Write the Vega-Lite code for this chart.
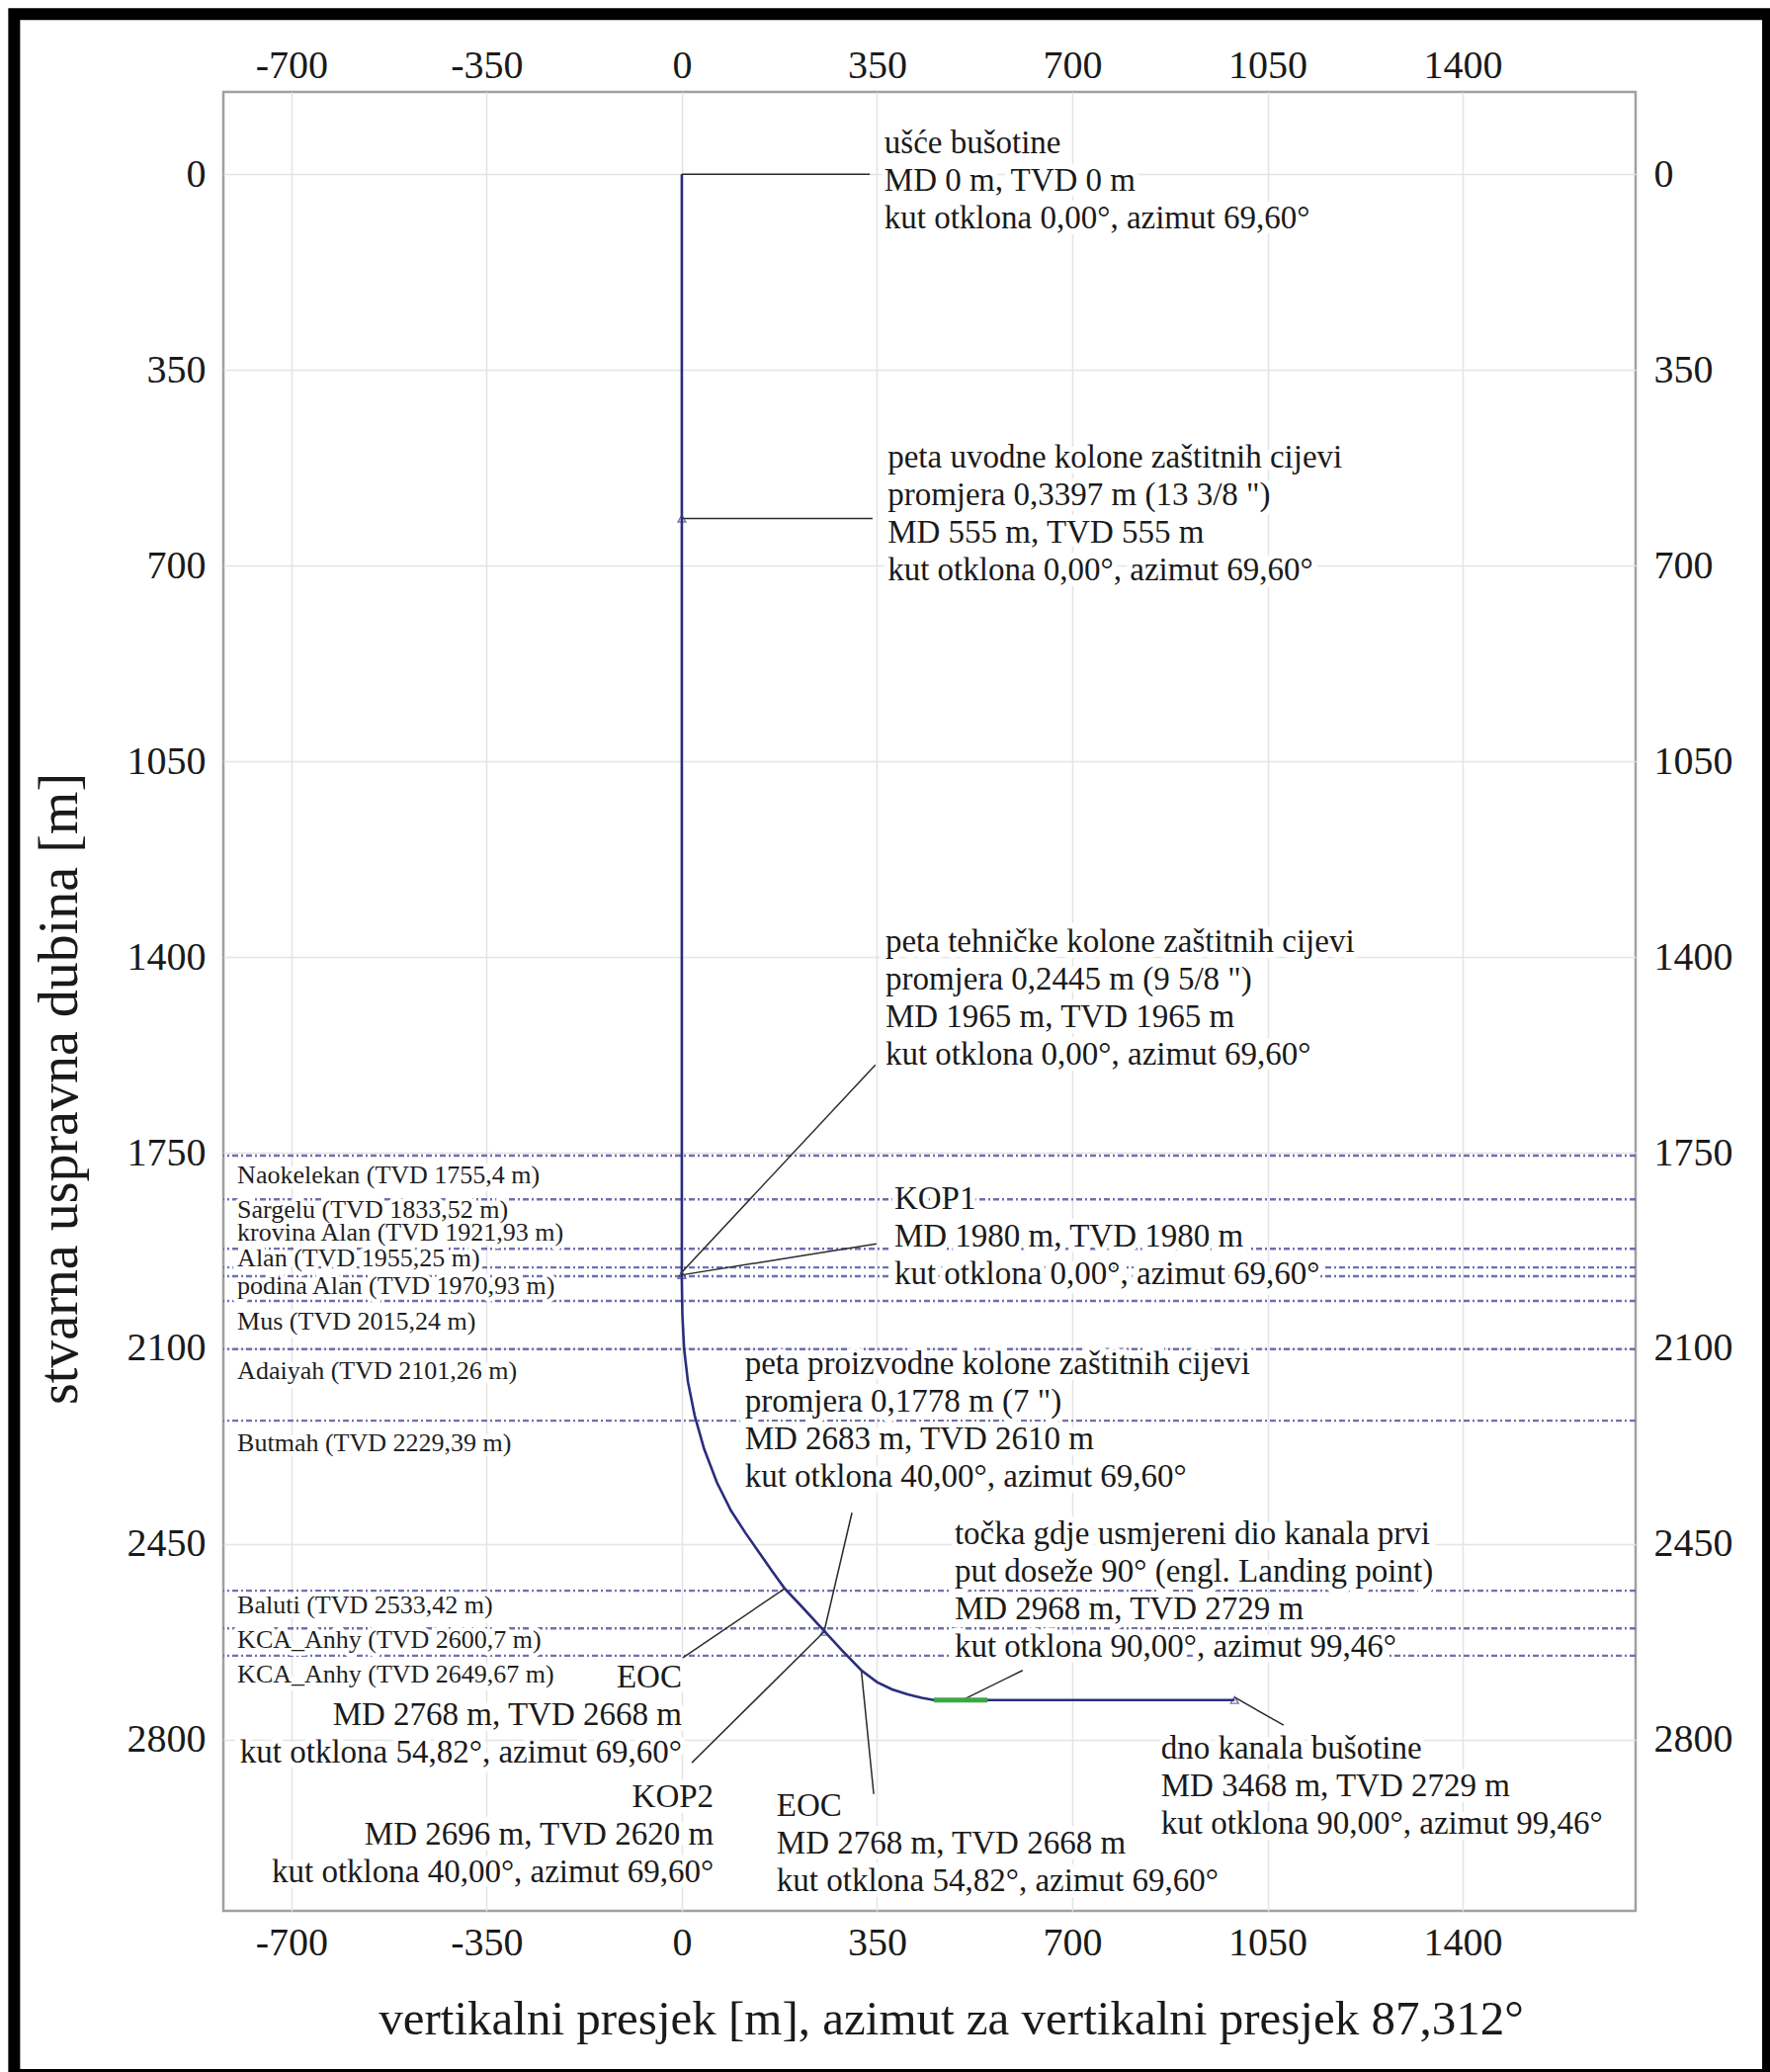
{
  "$schema": "https://vega.github.io/schema/vega-lite/v6.json",
  "width": 1429,
  "height": 1840,
  "autosize": {"type": "none"},
  "padding": {"left": 226, "top": 93, "right": 136, "bottom": 163},
  "background": "white",
  "config": {
    "view": {"stroke": "#a0a0a0", "strokeWidth": 2.5},
    "text": {"font": "Liberation Serif"},
    "axis": {"labelFont": "Liberation Serif", "titleFont": "Liberation Serif"}
  },
  "datasets": {
    "trajectory": [
      {"pt": 1, "vs": 0, "tvd": 0},
      {"pt": 2, "vs": 0, "tvd": 1980},
      {"pt": 3, "vs": 1, "tvd": 2040},
      {"pt": 4, "vs": 4, "tvd": 2100},
      {"pt": 5, "vs": 11, "tvd": 2160},
      {"pt": 6, "vs": 23, "tvd": 2220},
      {"pt": 7, "vs": 40, "tvd": 2280},
      {"pt": 8, "vs": 63, "tvd": 2340},
      {"pt": 9, "vs": 88, "tvd": 2390},
      {"pt": 10, "vs": 114, "tvd": 2430},
      {"pt": 11, "vs": 142, "tvd": 2470},
      {"pt": 12, "vs": 163, "tvd": 2500},
      {"pt": 13, "vs": 184, "tvd": 2529},
      {"pt": 14, "vs": 218, "tvd": 2565},
      {"pt": 15, "vs": 252, "tvd": 2602},
      {"pt": 16, "vs": 287, "tvd": 2640},
      {"pt": 17, "vs": 322, "tvd": 2676},
      {"pt": 18, "vs": 350, "tvd": 2697},
      {"pt": 19, "vs": 377, "tvd": 2710},
      {"pt": 20, "vs": 405, "tvd": 2719},
      {"pt": 21, "vs": 430, "tvd": 2725},
      {"pt": 22, "vs": 452, "tvd": 2729},
      {"pt": 23, "vs": 991, "tvd": 2729}
    ],
    "landing_zone": [
      {"pt": 1, "vs": 452, "tvd": 2729},
      {"pt": 2, "vs": 548, "tvd": 2729}
    ],
    "formations": [
      {"name": "Naokelekan", "tvd": 1755.4, "label": "Naokelekan (TVD 1755,4 m)", "label_tvd": 1805},
      {"name": "Sargelu", "tvd": 1833.52, "label": "Sargelu (TVD 1833,52 m)", "label_tvd": 1866},
      {"name": "krovina Alan", "tvd": 1921.93, "label": "krovina Alan (TVD 1921,93 m)", "label_tvd": 1907},
      {"name": "Alan", "tvd": 1955.25, "label": "Alan (TVD 1955,25 m)", "label_tvd": 1954},
      {"name": "podina Alan", "tvd": 1970.93, "label": "podina Alan (TVD 1970,93 m)", "label_tvd": 2002},
      {"name": "Mus", "tvd": 2015.24, "label": "Mus (TVD 2015,24 m)", "label_tvd": 2066},
      {"name": "Adaiyah", "tvd": 2101.26, "label": "Adaiyah (TVD 2101,26 m)", "label_tvd": 2155},
      {"name": "Butmah", "tvd": 2229.39, "label": "Butmah (TVD 2229,39 m)", "label_tvd": 2284},
      {"name": "Baluti", "tvd": 2533.42, "label": "Baluti (TVD 2533,42 m)", "label_tvd": 2574},
      {"name": "KCA_Anhy", "tvd": 2600.7, "label": "KCA_Anhy (TVD 2600,7 m)", "label_tvd": 2636},
      {"name": "KCA_Anhy (2)", "tvd": 2649.67, "label": "KCA_Anhy (TVD 2649,67 m)", "label_tvd": 2698}
    ],
    "notes_right": [
      {"vs": 363, "tvd": -37, "text": "ušće bušotine\nMD 0 m, TVD 0 m\nkut otklona 0,00°, azimut 69,60°"},
      {"vs": 369, "tvd": 525, "text": "peta uvodne kolone zaštitnih cijevi\npromjera 0,3397 m (13 3/8 \")\nMD 555 m, TVD 555 m\nkut otklona 0,00°, azimut 69,60°"},
      {"vs": 365, "tvd": 1391, "text": "peta tehničke kolone zaštitnih cijevi\npromjera 0,2445 m (9 5/8 \")\nMD 1965 m, TVD 1965 m\nkut otklona 0,00°, azimut 69,60°"},
      {"vs": 381, "tvd": 1851, "text": "KOP1\nMD 1980 m, TVD 1980 m\nkut otklona 0,00°, azimut 69,60°"},
      {"vs": 113, "tvd": 2146, "text": "peta proizvodne kolone zaštitnih cijevi\npromjera 0,1778 m (7 \")\nMD 2683 m, TVD 2610 m\nkut otklona 40,00°, azimut 69,60°"},
      {"vs": 489, "tvd": 2450, "text": "točka gdje usmjereni dio kanala prvi\nput doseže 90° (engl. Landing point)\nMD 2968 m, TVD 2729 m\nkut otklona 90,00°, azimut 99,46°"},
      {"vs": 859, "tvd": 2834, "text": "dno kanala bušotine\nMD 3468 m, TVD 2729 m\nkut otklona 90,00°, azimut 99,46°"},
      {"vs": 170, "tvd": 2936, "text": "EOC\nMD 2768 m, TVD 2668 m\nkut otklona 54,82°, azimut 69,60°"}
    ],
    "notes_left": [
      {"vs": 0, "tvd": 2706, "text": "EOC\nMD 2768 m, TVD 2668 m\nkut otklona 54,82°, azimut 69,60°"},
      {"vs": 57, "tvd": 2920, "text": "KOP2\nMD 2696 m, TVD 2620 m\nkut otklona 40,00°, azimut 69,60°"}
    ],
    "leaders": [
      {"vs_a": 0, "tvd_a": 0, "vs_b": 337, "tvd_b": 0},
      {"vs_a": 0, "tvd_a": 616, "vs_b": 342, "tvd_b": 616},
      {"vs_a": -2, "tvd_a": 1966, "vs_b": 347, "tvd_b": 1593},
      {"vs_a": -2, "tvd_a": 1969, "vs_b": 349, "tvd_b": 1913},
      {"vs_a": 255, "tvd_a": 2607, "vs_b": 305, "tvd_b": 2394},
      {"vs_a": 184, "tvd_a": 2530, "vs_b": 2, "tvd_b": 2653},
      {"vs_a": 255, "tvd_a": 2607, "vs_b": 18, "tvd_b": 2841},
      {"vs_a": 322, "tvd_a": 2678, "vs_b": 344, "tvd_b": 2897},
      {"vs_a": 507, "tvd_a": 2727, "vs_b": 611, "tvd_b": 2676},
      {"vs_a": 991, "tvd_a": 2724, "vs_b": 1079, "tvd_b": 2774}
    ],
    "markers": [
      {"name": "peta 13 3/8", "vs": 0, "tvd": 616},
      {"name": "peta 9 5/8", "vs": 0, "tvd": 1969},
      {"name": "peta 7", "vs": 255, "tvd": 2607},
      {"name": "dno", "vs": 991, "tvd": 2729}
    ],
    "frame": [
      {"part": "okvir slike"}
    ]
  },
  "resolve": {"axis": {"x": "independent", "y": "independent"}},
  "layer": [
    {
      "data": {"name": "formations"},
      "mark": {"type": "rule", "color": "#5f5fa8", "strokeWidth": 2.4, "strokeDash": [6, 3, 2, 3], "opacity": 0.9},
      "encoding": {
        "y": {"field": "tvd", "type": "quantitative", "scale": {"domain": [-147, 3106], "reverse": true, "nice": false, "zero": false}, "axis": null}
      }
    },
    {
      "data": {"name": "formations"},
      "mark": {"type": "text", "align": "left", "baseline": "alphabetic", "fontSize": 26, "font": "Liberation Serif", "fill": "white", "stroke": "white", "strokeWidth": 9, "strokeJoin": "round"},
      "encoding": {
        "x": {"datum": -797, "type": "quantitative", "scale": {"domain": [-822, 1710], "nice": false, "zero": false}, "axis": null},
        "y": {"field": "label_tvd", "type": "quantitative", "scale": {"domain": [-147, 3106], "reverse": true, "nice": false, "zero": false}, "axis": null},
        "text": {"field": "label"}
      }
    },
    {
      "data": {"name": "notes_right"},
      "mark": {"type": "text", "align": "left", "baseline": "alphabetic", "fontSize": 33, "font": "Liberation Serif", "lineBreak": "\n", "lineHeight": 38, "fill": "white", "stroke": "white", "strokeWidth": 12, "strokeJoin": "round"},
      "encoding": {
        "x": {"field": "vs", "type": "quantitative", "scale": {"domain": [-822, 1710], "nice": false, "zero": false}, "axis": null},
        "y": {"field": "tvd", "type": "quantitative", "scale": {"domain": [-147, 3106], "reverse": true, "nice": false, "zero": false}, "axis": null},
        "text": {"field": "text"}
      }
    },
    {
      "data": {"name": "notes_left"},
      "mark": {"type": "text", "align": "right", "baseline": "alphabetic", "fontSize": 33, "font": "Liberation Serif", "lineBreak": "\n", "lineHeight": 38, "fill": "white", "stroke": "white", "strokeWidth": 12, "strokeJoin": "round"},
      "encoding": {
        "x": {"field": "vs", "type": "quantitative", "scale": {"domain": [-822, 1710], "nice": false, "zero": false}, "axis": null},
        "y": {"field": "tvd", "type": "quantitative", "scale": {"domain": [-147, 3106], "reverse": true, "nice": false, "zero": false}, "axis": null},
        "text": {"field": "text"}
      }
    },
    {
      "data": {"name": "trajectory"},
      "mark": {"type": "line", "color": "#2b2d7c", "strokeWidth": 2.6},
      "encoding": {
        "x": {
          "field": "vs", "type": "quantitative",
          "scale": {"domain": [-822, 1710], "nice": false, "zero": false},
          "axis": {
            "orient": "bottom", "values": [-700, -350, 0, 350, 700, 1050, 1400],
            "labelExpr": "datum.value < 0 ? '-' + abs(datum.value) : '' + datum.value",
            "grid": true, "gridColor": "#e4e4e4", "gridWidth": 1.5,
            "ticks": false, "domain": false, "labelFlush": false, "labelOverlap": false,
            "labelFont": "Liberation Serif", "labelFontSize": 40, "labelColor": "#1a1a1a", "labelPadding": 12,
            "title": "vertikalni presjek [m], azimut za vertikalni presjek 87,312°",
            "titleFont": "Liberation Serif", "titleFontSize": 49, "titleFontWeight": "normal", "titleColor": "#1a1a1a",
            "titleX": 736, "titleY": 124, "titleBaseline": "alphabetic", "titleAlign": "center"
          }
        },
        "y": {
          "field": "tvd", "type": "quantitative",
          "scale": {"domain": [-147, 3106], "reverse": true, "nice": false, "zero": false},
          "axis": {
            "orient": "left", "values": [0, 350, 700, 1050, 1400, 1750, 2100, 2450, 2800],
            "labelExpr": "'' + datum.value",
            "grid": true, "gridColor": "#e4e4e4", "gridWidth": 1.5,
            "ticks": false, "domain": false, "labelFlush": false, "labelOverlap": false,
            "labelFont": "Liberation Serif", "labelFontSize": 40, "labelColor": "#1a1a1a", "labelPadding": 18,
            "title": "stvarna uspravna dubina [m]",
            "titleFont": "Liberation Serif", "titleFontSize": 56, "titleFontWeight": "normal", "titleColor": "#1a1a1a",
            "titleAngle": 270, "titleX": -166, "titleY": 1008, "titleBaseline": "middle", "titleAlign": "center"
          }
        },
        "order": {"field": "pt", "type": "quantitative"}
      }
    },
    {
      "data": {"name": "leaders"},
      "mark": {"type": "rule", "color": "#2a2a2a", "strokeWidth": 1.5},
      "encoding": {
        "x": {
          "field": "vs_a", "type": "quantitative",
          "scale": {"domain": [-822, 1710], "nice": false, "zero": false},
          "axis": {
            "orient": "top", "values": [-700, -350, 0, 350, 700, 1050, 1400],
            "labelExpr": "datum.value < 0 ? '-' + abs(datum.value) : '' + datum.value",
            "grid": false, "ticks": false, "domain": false, "labelFlush": false, "labelOverlap": false,
            "labelFont": "Liberation Serif", "labelFontSize": 40, "labelColor": "#1a1a1a", "labelPadding": 7,
            "title": null
          }
        },
        "x2": {"field": "vs_b"},
        "y": {
          "field": "tvd_a", "type": "quantitative",
          "scale": {"domain": [-147, 3106], "reverse": true, "nice": false, "zero": false},
          "axis": {
            "orient": "right", "values": [0, 350, 700, 1050, 1400, 1750, 2100, 2450, 2800],
            "labelExpr": "'' + datum.value",
            "grid": false, "ticks": false, "domain": false, "labelFlush": false, "labelOverlap": false,
            "labelFont": "Liberation Serif", "labelFontSize": 40, "labelColor": "#1a1a1a", "labelPadding": 18,
            "title": null
          }
        },
        "y2": {"field": "tvd_b"}
      }
    },
    {
      "data": {"name": "landing_zone"},
      "mark": {"type": "line", "color": "#3aa846", "strokeWidth": 5},
      "encoding": {
        "x": {"field": "vs", "type": "quantitative", "scale": {"domain": [-822, 1710], "nice": false, "zero": false}, "axis": null},
        "y": {"field": "tvd", "type": "quantitative", "scale": {"domain": [-147, 3106], "reverse": true, "nice": false, "zero": false}, "axis": null},
        "order": {"field": "pt", "type": "quantitative"}
      }
    },
    {
      "data": {"name": "markers"},
      "mark": {"type": "point", "shape": "triangle-up", "size": 60, "filled": false, "color": "#3a3c88", "strokeWidth": 1.4},
      "encoding": {
        "x": {"field": "vs", "type": "quantitative", "scale": {"domain": [-822, 1710], "nice": false, "zero": false}, "axis": null},
        "y": {"field": "tvd", "type": "quantitative", "scale": {"domain": [-147, 3106], "reverse": true, "nice": false, "zero": false}, "axis": null}
      }
    },
    {
      "data": {"name": "formations"},
      "mark": {"type": "text", "align": "left", "baseline": "alphabetic", "fontSize": 26, "font": "Liberation Serif", "color": "#1e1e1e"},
      "encoding": {
        "x": {"datum": -797, "type": "quantitative", "scale": {"domain": [-822, 1710], "nice": false, "zero": false}, "axis": null},
        "y": {"field": "label_tvd", "type": "quantitative", "scale": {"domain": [-147, 3106], "reverse": true, "nice": false, "zero": false}, "axis": null},
        "text": {"field": "label"}
      }
    },
    {
      "data": {"name": "notes_right"},
      "mark": {"type": "text", "align": "left", "baseline": "alphabetic", "fontSize": 33, "font": "Liberation Serif", "lineBreak": "\n", "lineHeight": 38, "color": "#1a1a1a"},
      "encoding": {
        "x": {"field": "vs", "type": "quantitative", "scale": {"domain": [-822, 1710], "nice": false, "zero": false}, "axis": null},
        "y": {"field": "tvd", "type": "quantitative", "scale": {"domain": [-147, 3106], "reverse": true, "nice": false, "zero": false}, "axis": null},
        "text": {"field": "text"}
      }
    },
    {
      "data": {"name": "notes_left"},
      "mark": {"type": "text", "align": "right", "baseline": "alphabetic", "fontSize": 33, "font": "Liberation Serif", "lineBreak": "\n", "lineHeight": 38, "color": "#1a1a1a"},
      "encoding": {
        "x": {"field": "vs", "type": "quantitative", "scale": {"domain": [-822, 1710], "nice": false, "zero": false}, "axis": null},
        "y": {"field": "tvd", "type": "quantitative", "scale": {"domain": [-147, 3106], "reverse": true, "nice": false, "zero": false}, "axis": null},
        "text": {"field": "text"}
      }
    },
    {
      "data": {"name": "frame"},
      "mark": {"type": "rect", "filled": false, "color": "black", "strokeWidth": 12, "clip": false},
      "encoding": {
        "x": {"datum": -1197, "type": "quantitative", "scale": {"domain": [-822, 1710], "nice": false, "zero": false}, "axis": null},
        "x2": {"datum": 1947.5},
        "y": {"datum": -286.4, "type": "quantitative", "scale": {"domain": [-147, 3106], "reverse": true, "nice": false, "zero": false}, "axis": null},
        "y2": {"datum": 3399.3}
      }
    }
  ]
}
